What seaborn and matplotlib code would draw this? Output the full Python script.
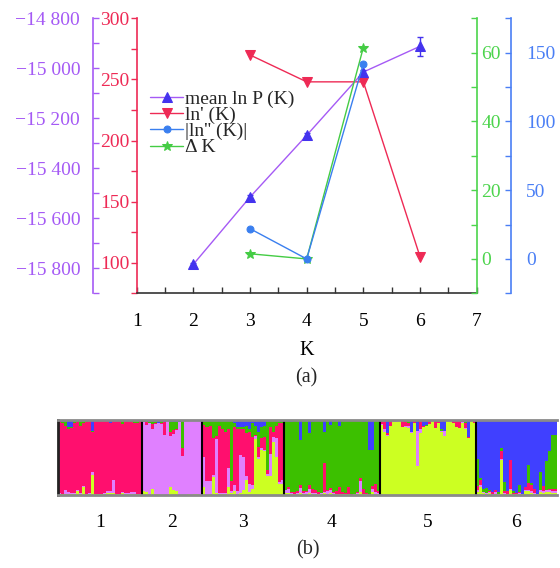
import matplotlib
matplotlib.use('Agg')
import matplotlib.pyplot as plt
import matplotlib.ticker as mticker
import numpy as np
import seaborn as sns

sns.set_theme(style='ticks')
plt.rcParams['font.family'] = ['Liberation Serif', 'DejaVu Serif']
plt.rcParams['axes.unicode_minus'] = True

# ---------------- (a) Evanno statistics ----------------
K_lnP = [2, 3, 4, 5, 6]
mean_lnP = [-15784, -15515, -15268, -15015, -14912]
sd_lnP = [4, 10, 10, 8, 39]
K_d1 = [3, 4, 5, 6]
ln1 = [270, 248, 248, 105]
K_d2 = [3, 4, 5]
ln2 = [22, 0, 142]
deltaK = [1.5, 0, 61.5]

# ---------------- (b) STRUCTURE bar plot (K = 5) ----------------
group_names = ['1', '2', '3', '4', '5', '6']
cluster_names = ['yellow', 'violet', 'pink', 'green', 'blue']  # bottom -> top
cluster_colors = ['#CCFF22', '#E080FF', '#FF0F6E', '#3CC000', '#4040FF']

# each group: minor memberships per individual, dominant cluster = what is left
g1 = dict(dom='pink',
          yellow=[.01, .01, .01, .02, .02, .02, .05, .02, .11, .01, .01, .27, .01, .01,
                  .01, .02, .03, .03, .03, .01, .01, .03, .02, .01, .01, .01, .01, .00],
          violet=[.02, .00, .06, .02, .01, .01, .01, .01, .01, .00, .02, .04, .00, .00,
                  .01, .01, .02, .02, .17, .00, .00, .01, .01, .02, .03, .03, .01, .02],
          green=[.00, .01, .07, .02, .01, .03, .02, .06, .03, .01, .00, .01, .02, .01,
                 .02, .01, .00, .00, .00, .01, .00, .05, .00, .01, .02, .04, .02, .01],
          blue=[.02, .03, .02, .10, .10, .01, .01, .02, .01, .02, .02, .15, .00, .01,
                .00, .01, .02, .05, .01, .01, .02, .01, .02, .01, .01, .01, .02, .01])
g2 = dict(dom='violet',
          yellow=[.05, .04, .02, .08, .02, .01, .00, .00, .00, .10, .06, .05, .00, .00,
                  .00, .01, .00, .01, .01, .00],
          pink=[.00, .04, .01, .07, .01, .01, .02, .17, .00, .05, .05, .02, .00, .11,
                .02, .02, .02, .02, .01, .02],
          green=[.02, .01, .01, .04, .02, .00, .03, .00, .00, .13, .11, .09, .00, .36,
                 .00, .00, .00, .00, .00, .00],
          blue=[.01, .02, .03, .02, .03, .04, .01, .03, .01, .03, .03, .03, .03, .01,
                .00, .00, .00, .00, .00, .00])
g3 = dict(dom='pink',
          yellow=[.10, .00, .02, .24, .03, .01, .01, .01, .10, .03, .05, .02, .03, .06,
                  .20, .04, .08, .75, .48, .60, .58, .25, .25, .70, .51, .15, .15],
          violet=[.41, .18, .16, .02, .72, .02, .02, .02, .26, .02, .08, .03, .50, .45,
                  .05, .10, .05, .03, .02, .02, .02, .03, .30, .07, .25, .02, .05],
          green=[.05, .08, .06, .22, .20, .07, .10, .14, .10, .80, .05, .02, .02, .03,
                 .10, .05, .18, .12, .20, .14, .15, .67, .10, .17, .09, .05, .03],
          blue=[.02, .02, .02, .02, .02, .02, .02, .02, .02, .02, .05, .10, .10, .10,
                .08, .12, .05, .08, .16, .10, .08, .00, .00, .00, .00, .00, .01])
g4 = dict(dom='green',
          yellow=[.03, .03, .02, .01, .02, .03, .02, .02, .03, .02, .02, .01, .02, .03,
                  .02, .03, .02, .01, .02, .01, .01, .01, .00, .01, .02, .04, .01, .01,
                  .00, .04, .02, .02],
          violet=[.03, .05, .01, .01, .01, .06, .01, .02, .05, .01, .01, .00, .01, .01,
                  .03, .04, .01, .01, .00, .01, .01, .01, .00, .00, .01, .15, .01, .00,
                  .00, .04, .02, .01],
          pink=[.01, .03, .01, .02, .02, .04, .02, .01, .05, .05, .04, .03, .00, .38,
                .01, .02, .01, .03, .08, .02, .01, .08, .01, .01, .01, .03, .06, .02,
                .01, .04, .11, .02],
          blue=[.01, .01, .03, .02, .01, .27, .01, .00, .18, .03, .00, .02, .00, .16,
                .01, .07, .00, .01, .08, .00, .02, .00, .00, .00, .00, .01, .03, .00,
                .40, .40, .00, .00])
g5 = dict(dom='yellow',
          violet=[.01, .04, .01, .01, .01, .01, .01, .00, .01, .02, .01, .00, .47, .06,
                  .00, .01, .00, .00, .00, .00, .01, .07, .00, .01, .01, .00, .00, .01,
                  .01, .00, .00, .01],
          pink=[.03, .10, .02, .05, .00, .01, .01, .09, .06, .05, .00, .03, .00, .10,
                .01, .00, .04, .01, .09, .02, .00, .00, .02, .01, .03, .08, .10, .01,
                .07, .01, .00, .02],
          green=[.02, .00, .00, .01, .02, .01, .00, .01, .03, .04, .00, .02, .00, .02,
                 .00, .01, .02, .01, .02, .03, .02, .00, .00, .01, .01, .02, .01, .02,
                 .01, .00, .02, .02],
          blue=[.01, .02, .18, .02, .00, .00, .00, .00, .00, .00, .17, .00, .15, .00,
                .09, .07, .00, .00, .00, .00, .13, .15, .00, .00, .00, .00, .00, .00,
                .03, .23, .00, .00])
g6 = dict(dom='blue',
          yellow=[.04, .11, .03, .02, .03, .00, .02, .02, .47, .01, .01, .06, .02, .01,
                  .02, .01, .05, .05, .03, .01, .02, .04, .03, .04, .04, .03, .03],
          violet=[.02, .02, .01, .01, .01, .01, .02, .00, .01, .02, .00, .02, .00, .01,
                  .01, .00, .02, .02, .02, .02, .00, .02, .02, .02, .02, .02, .02],
          pink=[.06, .07, .00, .00, .01, .03, .02, .00, .11, .02, .04, .39, .01, .01,
                .01, .00, .03, .09, .08, .05, .00, .01, .07, .01, .02, .03, .03],
          green=[.36, .02, .04, .06, .02, .00, .00, .02, .03, .12, .00, .00, .02, .00,
                 .09, .01, .00, .24, .03, .00, .00, .24, .00, .38, .50, .72, .72])
groups = [g1, g2, g3, g4, g5, g6]

# assemble membership table (dominant share = 1 - minor shares)
cols = {c: [] for c in cluster_names}
sizes = []
for g in groups:
    n = len(next(v for k, v in g.items() if k != 'dom'))
    sizes.append(n)
    minor = np.zeros(n)
    for c in cluster_names:
        if c != g['dom']:
            cols[c].extend(g[c])
            minor += np.array(g[c])
    cols[g['dom']].extend(list(1 - minor))
Q = np.array([cols[c] for c in cluster_names])

# ---------------- colours ----------------
purple = '#A55AF5'
red = '#EE2A55'
green = '#4CD44C'
blue = '#4A7FF5'
tri_blue = '#4433EE'
circ_blue = '#3A7FEF'
star_green = '#44CC44'

fig = plt.figure(figsize=(5.6, 5.68), dpi=100)
fig.patch.set_facecolor('white')

ax = fig.add_axes([0.2441, 0.4836, 0.6071, 0.4842])
ax_p = ax.twinx()
ax_g = ax.twinx()
ax_b = ax.twinx()
for a in (ax, ax_p, ax_g, ax_b):
    a.set_facecolor('none')
    for s in a.spines.values():
        s.set_visible(False)
        s.set_linewidth(1.2)

# lines
sns.lineplot(x=K_lnP, y=mean_lnP, ax=ax_p, color=purple, lw=1, marker='^', markersize=6.5,
             markerfacecolor=tri_blue, markeredgecolor=tri_blue, legend=False)
ax_p.errorbar(K_lnP, mean_lnP, yerr=sd_lnP, fmt='none', ecolor=tri_blue, elinewidth=1,
              capsize=2.5, capthick=1)
sns.lineplot(x=K_d1, y=ln1, ax=ax, color=red, lw=1, marker='v', markersize=6.5,
             markerfacecolor=red, markeredgecolor=red, legend=False)
sns.lineplot(x=K_d2, y=ln2, ax=ax_b, color=circ_blue, lw=1, marker='o', markersize=5,
             markerfacecolor=circ_blue, markeredgecolor=circ_blue, legend=False)
sns.lineplot(x=K_d2, y=deltaK, ax=ax_g, color=star_green, lw=1, marker='*', markersize=7.5,
             markerfacecolor=star_green, markeredgecolor=star_green, legend=False)

# main (red) axis + x axis
ax.set_xlim(1, 7)
ax.set_ylim(75, 300)
ax.spines['left'].set_visible(True)
ax.spines['left'].set_color(red)
ax.spines['bottom'].set_visible(True)
ax.spines['bottom'].set_color('#333333')
ax.xaxis.set_major_locator(mticker.MultipleLocator(1))
ax.xaxis.set_minor_locator(mticker.MultipleLocator(0.5))
ax.yaxis.set_major_locator(mticker.MultipleLocator(50))
ax.yaxis.set_minor_locator(mticker.MultipleLocator(25))
ax.tick_params(axis='x', which='both', direction='in', length=4, width=1, color='#333333',
               labelcolor='black', labelsize=14, pad=14)
ax.tick_params(axis='y', which='both', direction='out', length=4, width=1, color=red,
               labelcolor=red, labelsize=14, pad=1)
ax.set_xlabel('K', fontsize=14.5, color='black', labelpad=8)
ax.set_ylabel('')

# purple axis (mean ln P)
ax_p.set_ylim(-15900, -14800)
ax_p.yaxis.tick_left()
ax_p.spines['left'].set_visible(True)
ax_p.spines['left'].set_position(('outward', 31.7))
ax_p.spines['left'].set_color(purple)
ax_p.yaxis.set_major_locator(mticker.MultipleLocator(200))
ax_p.yaxis.set_minor_locator(mticker.MultipleLocator(100))
ax_p.yaxis.set_major_formatter(mticker.FuncFormatter(
    lambda v, p: ('\u2212' if v < 0 else '') + f'{abs(int(round(v))):,}'.replace(',', ' ')))
ax_p.tick_params(axis='y', which='both', direction='in', length=4, width=1, color=purple,
                 labelcolor=purple, labelsize=14, pad=9, left=True, right=False,
                 labelleft=True, labelright=False)
ax_p.set_ylabel('')

# green axis (delta K)
ax_g.set_ylim(-10, 70)
ax_g.spines['right'].set_visible(True)
ax_g.spines['right'].set_color(green)
ax_g.yaxis.set_major_locator(mticker.MultipleLocator(20))
ax_g.yaxis.set_minor_locator(mticker.MultipleLocator(10))
ax_g.tick_params(axis='y', which='both', direction='in', length=4, width=1, color=green,
                 labelcolor=green, labelsize=14, pad=3.5)
ax_g.set_ylabel('')

# blue axis (|ln''|)
ax_b.set_ylim(-25, 175)
ax_b.spines['right'].set_visible(True)
ax_b.spines['right'].set_position(('outward', 24.7))
ax_b.spines['right'].set_color(blue)
ax_b.yaxis.set_major_locator(mticker.MultipleLocator(50))
ax_b.yaxis.set_minor_locator(mticker.MultipleLocator(25))
ax_b.tick_params(axis='y', which='both', direction='in', length=4, width=1, color=blue,
                 labelcolor=blue, labelsize=14, pad=11)
ax_b.set_ylabel('')

handles = [ax_p.lines[0], ax.lines[0], ax_b.lines[0], ax_g.lines[0]]
labels = ['mean ln P (K)', "ln' (K)", "|ln'' (K)|", '\u0394 K']
leg = ax_b.legend(handles, labels, loc='upper left', bbox_to_anchor=(0.04, 0.738),
                  frameon=False, fontsize=14, handlelength=1.7, handletextpad=0.1,
                  labelspacing=-0.08, borderpad=0, borderaxespad=0)

fig.text(0.5477, 1 - 378 / 568, '(a)', ha='center', va='center', fontsize=14.5)

# ---------------- (b) ----------------
ax2 = fig.add_axes([0.1041, 0.1285, 0.8905, 0.1326])
x = np.arange(Q.shape[1])
bottom = np.zeros(Q.shape[1])
for i, col in enumerate(cluster_colors):
    ax2.bar(x, Q[i], bottom=bottom, width=1.0, color=col, linewidth=0, align='center')
    bottom += Q[i]
ax2.set_xlim(-0.5, Q.shape[1] - 0.5)
ax2.set_ylim(0, 1)
bounds = np.cumsum([0] + sizes)
for b in bounds[1:-1]:
    ax2.axvline(b - 0.5, color='black', lw=1.5)
centers = (bounds[:-1] + bounds[1:]) / 2 - 0.5
ax2.set_xticks(centers)
ax2.set_xticklabels(group_names)
ax2.set_yticks([])
ax2.tick_params(axis='x', length=0, labelsize=14, pad=14, labelcolor='black')
for s in ax2.spines.values():
    s.set_visible(False)
for side in ('top', 'bottom'):
    ax2.spines[side].set_visible(True)
    ax2.spines[side].set_color('#8a8a8a')
    ax2.spines[side].set_linewidth(2)
ax2.spines['left'].set_visible(True)
ax2.spines['left'].set_color('#222222')
ax2.spines['left'].set_linewidth(2)

fig.text(0.5493, 1 - 550 / 568, '(b)', ha='center', va='center', fontsize=14.5)

fig.savefig('out.png', dpi=100)
